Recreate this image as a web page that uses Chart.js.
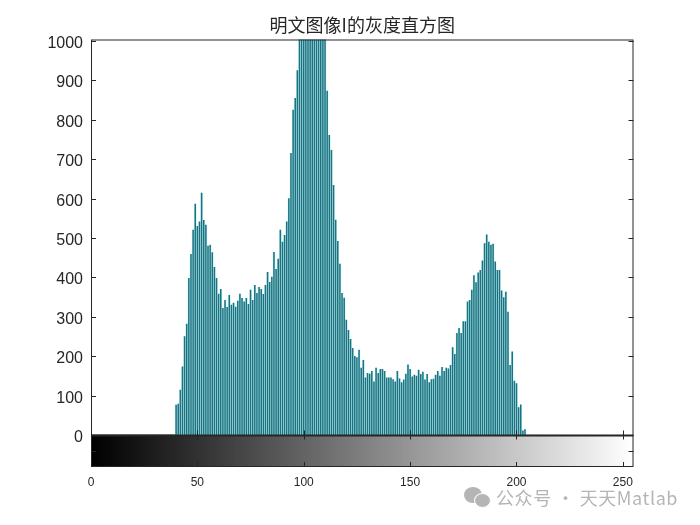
<!DOCTYPE html>
<html lang="zh">
<head>
    <meta charset="UTF-8">
    <title>明文图像I的灰度直方图</title>
    <style>
        body { margin: 0; background: #fff; }
        #wrap { position: relative; width: 700px; height: 525px; overflow: hidden; }
        #mark { position: absolute; left: 496px; top: 484px; font: 18px "Noto Sans CJK SC", "Noto Sans", sans-serif; color: #b5b5b5; letter-spacing: 0.6px; white-space: nowrap; line-height: 26px; }
        .bub { position: absolute; background: #b5b5b5; border-radius: 50%; }
    </style>
</head>
<body>
<div id="wrap">
    <canvas id="hist" width="700" height="525"></canvas>
    <div class="bub" style="left:464px;top:487px;width:18px;height:16px"></div>
    <div class="bub" style="left:474px;top:493px;width:15px;height:13px;border:1px solid #fff"></div>
    <div id="mark">公众号 · 天天Matlab</div>
</div>

<script src="https://cdn.jsdelivr.net/npm/chart.js"></script>
<script>
    const titleText = '明文图像I的灰度直方图';
    const yTicks = [0, 100, 200, 300, 400, 500, 600, 700, 800, 900, 1000];
    const xTicks = [0, 50, 100, 150, 200, 250];
    const firstLevel = 40;
    // counts for gray levels 40..204 (98-110 run past the top of the axes)
    const counts = [
        76, 79, 114, 173, 250, 282, 398, 459, 520, 586,
        530, 541, 614, 545, 533, 480, 482, 463, 426, 398,
        358, 370, 322, 342, 324, 355, 330, 335, 325, 340,
        358, 347, 338, 347, 332, 368, 342, 380, 360, 375,
        370, 357, 380, 413, 388, 401, 464, 421, 447, 520,
        490, 507, 541, 600, 715, 825, 855, 925, 1020, 1060,
        1110, 1150, 1180, 1210, 1190, 1230, 1170, 1140, 1120, 1080,
        1030, 873, 761, 723, 634, 546, 492, 434, 360, 348,
        292, 266, 243, 220, 200, 197, 216, 170, 190, 145,
        157, 155, 162, 135, 170, 157, 167, 167, 162, 145,
        145, 145, 141, 135, 162, 143, 133, 140, 155, 178,
        167, 148, 152, 150, 165, 154, 160, 140, 154, 133,
        141, 142, 152, 162, 150, 172, 162, 170, 168, 177,
        222, 205, 258, 271, 258, 288, 288, 338, 342, 368,
        405, 387, 412, 418, 442, 486, 508, 490, 482, 485,
        440, 418, 418, 366, 349, 363, 312, 177, 211, 137,
        131, 70, 77, 11, 14
    ];
    const rampBottom = -81;

    const histPoints = counts.map((c, i) => ({ x: firstLevel + i, y: c }));
    const rampPoints = [];
    const rampColors = [];
    for (let g = 0; g < 256; g++) {
        rampPoints.push({ x: g + 0.5, y: [rampBottom, 0] });
        rampColors.push(`rgb(${g},${g},${g})`);
    }

    // MATLAB style box, inward ticks and the heavy zero line
    const frame = {
        id: 'frame',
        afterDatasetsDraw(chart) {
            const { ctx, chartArea: a, scales: { x, y } } = chart;
            const y0 = Math.round(y.getPixelForValue(0)) + 0.5;
            ctx.save();
            ctx.strokeStyle = '#262626';
            ctx.lineWidth = 1;
            ctx.strokeRect(a.left + 0.5, a.top + 0.5, a.right - a.left - 1, a.bottom - a.top - 1);
            ctx.beginPath();
            yTicks.concat([-40]).forEach(v => {
                const p = Math.round(y.getPixelForValue(v)) + 0.5;
                ctx.moveTo(a.left, p); ctx.lineTo(a.left + 5, p);
                ctx.moveTo(a.right, p); ctx.lineTo(a.right - 5, p);
            });
            xTicks.forEach(v => {
                const p = Math.round(x.getPixelForValue(v)) + 0.5;
                ctx.moveTo(p, y0 - 5); ctx.lineTo(p, y0 + 4);
                ctx.moveTo(p, a.bottom); ctx.lineTo(p, a.bottom - 5);
            });
            ctx.stroke();
            ctx.lineWidth = 2;
            ctx.beginPath();
            ctx.moveTo(a.left, y0); ctx.lineTo(a.right, y0);
            ctx.stroke();
            ctx.restore();
        }
    };

    new Chart(document.getElementById('hist'), {
        type: 'bar',
        data: {
            datasets: [
                { data: rampPoints, backgroundColor: rampColors, barThickness: 3, order: 3 },
                { data: histPoints, backgroundColor: '#d4fbfb', barThickness: 2.2, order: 2 },
                { data: histPoints, backgroundColor: '#1b7382', barThickness: 0.9, order: 1 }
            ]
        },
        options: {
            responsive: false,
            animation: false,
            layout: { padding: { right: 66.5 } },
            datasets: { bar: { grouped: false } },
            scales: {
                x: {
                    type: 'linear',
                    offset: false,
                    min: 0,
                    max: 255,
                    grid: { display: false },
                    border: { display: false },
                    afterBuildTicks: s => { s.ticks = xTicks.map(v => ({ value: v })); },
                    afterFit: s => { s.height = 58; },
                    ticks: {
                        maxRotation: 0,
                        autoSkip: false,
                        padding: 0,
                        color: '#262626',
                        font: { family: '"Liberation Sans", Arial, sans-serif', size: 12 }
                    }
                },
                y: {
                    min: rampBottom,
                    max: 1004,
                    grid: { display: false },
                    border: { display: false },
                    afterBuildTicks: s => { s.ticks = yTicks.map(v => ({ value: v })); },
                    afterFit: s => { s.width = 91; },
                    ticks: {
                        autoSkip: false,
                        padding: 0,
                        labelOffset: 2.5,
                        callback: v => String(v),
                        color: '#262626',
                        font: { family: '"Liberation Sans", Arial, sans-serif', size: 16 }
                    }
                }
            },
            plugins: {
                legend: { display: false },
                tooltip: { enabled: false },
                title: {
                    display: true,
                    text: titleText,
                    fullSize: false,
                    color: '#262626',
                    font: { family: '"Noto Sans CJK SC", sans-serif', size: 18, weight: 'normal', lineHeight: 1.2 },
                    padding: { top: 14, bottom: 3.9 }
                }
            }
        },
        plugins: [frame]
    });
</script>
</body>
</html>
